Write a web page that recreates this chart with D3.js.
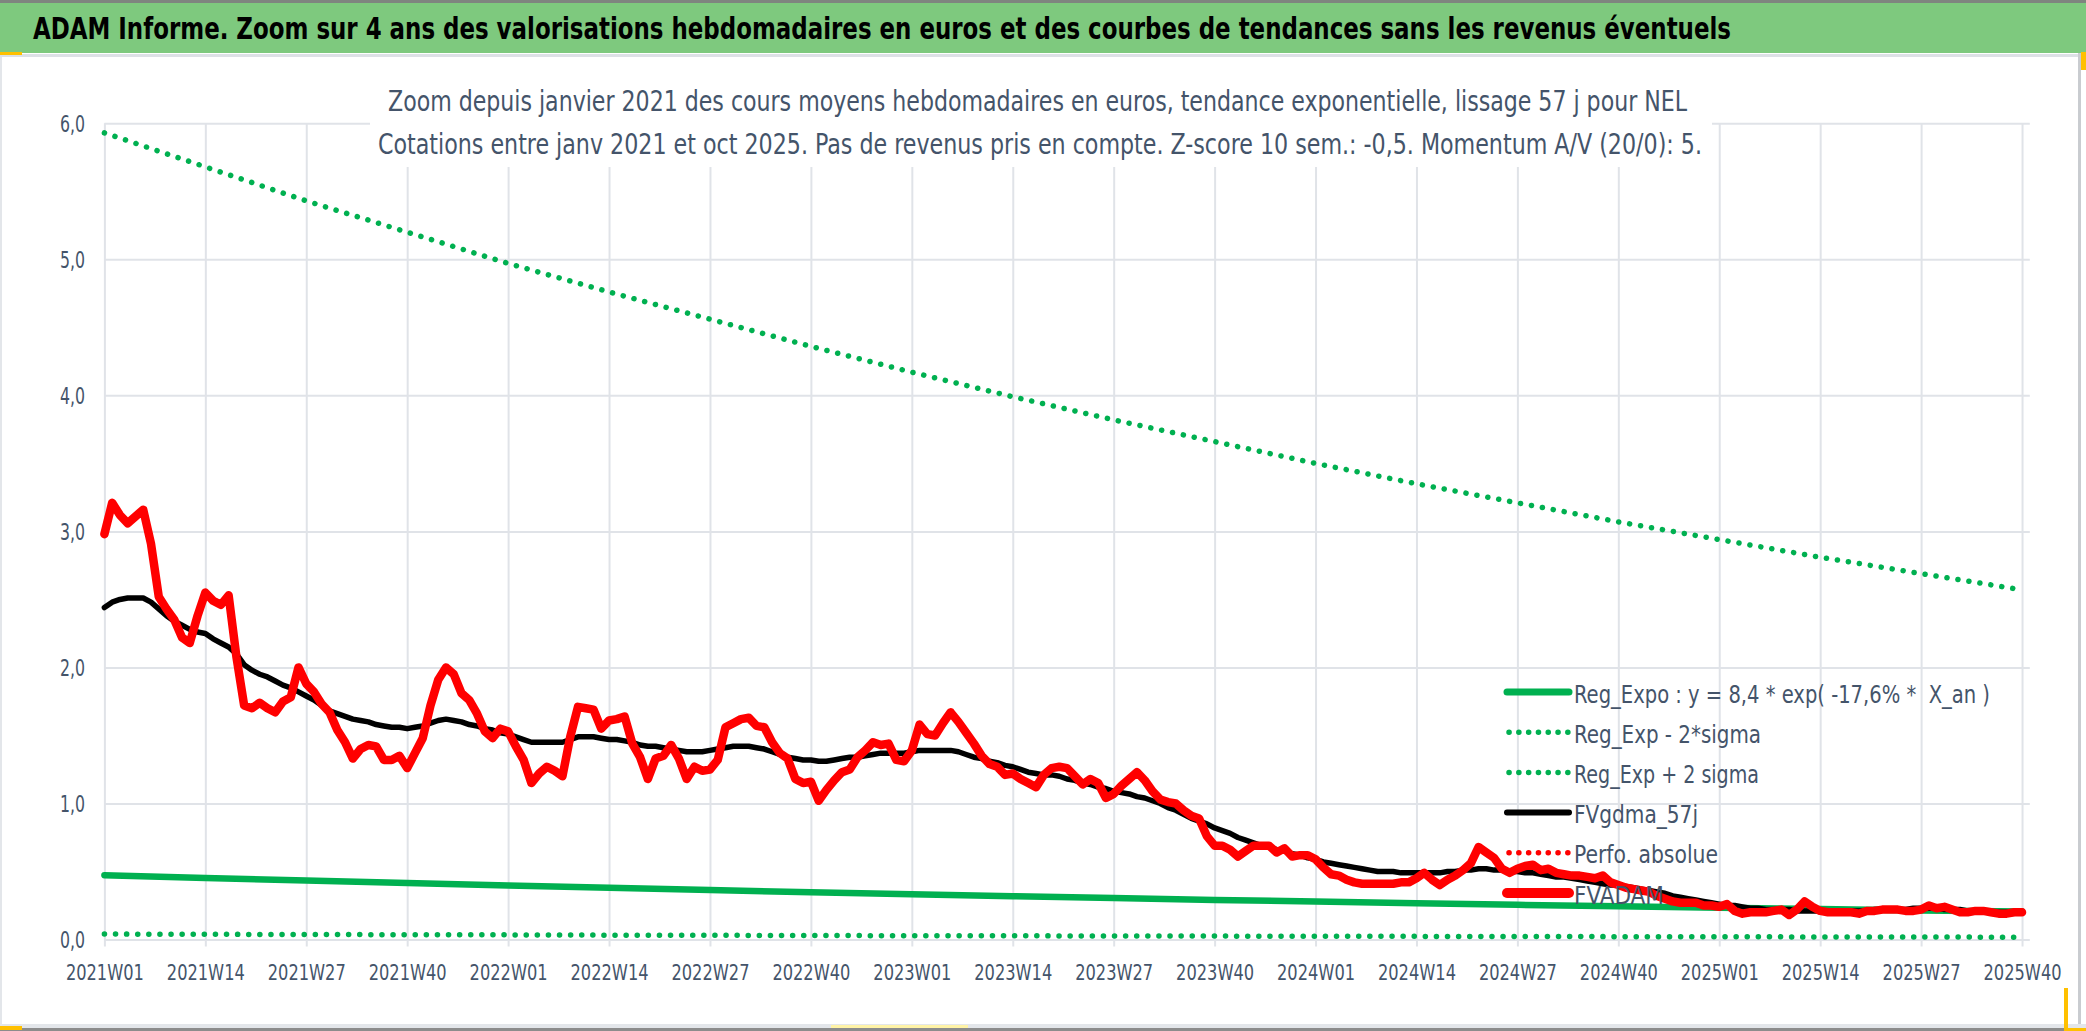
<!DOCTYPE html>
<html>
<head>
<meta charset="utf-8">
<script src="https://cdn.jsdelivr.net/npm/d3@7"></script>
<style>
  html, body { margin: 0; padding: 0; background: #fff; overflow: hidden; }
  text { font-family: "Liberation Sans Narrow", "DejaVu Sans Condensed", "Open Sans", sans-serif; }
</style>
</head>
<body>
<div id="chart"></div>
<script>
var titleText = 'ADAM Informe. Zoom sur 4 ans des valorisations hebdomadaires en euros et des courbes de tendances sans les revenus éventuels';
var subtitleLines = [
    'Zoom depuis janvier 2021 des cours moyens hebdomadaires en euros, tendance exponentielle, lissage 57 j pour NEL',
    'Cotations entre janv 2021 et oct 2025. Pas de revenus pris en compte. Z-score 10 sem.: -0,5. Momentum A/V (20/0): 5.'
];

// one label every 13 weeks, week 0 = 2021W01
var xTickLabels = ['2021W01', '2021W14', '2021W27', '2021W40', '2022W01', '2022W14', '2022W27', '2022W40',
    '2023W01', '2023W14', '2023W27', '2023W40', '2024W01', '2024W14', '2024W27', '2024W40',
    '2025W01', '2025W14', '2025W27', '2025W40'];
var yTicks = [0, 1, 2, 3, 4, 5, 6];

var legendLabels = ['Reg_Expo : y = 8,4 * exp( -17,6% *  X_an )', 'Reg_Exp - 2*sigma', 'Reg_Exp + 2 sigma',
    'FVgdma_57j', 'Perfo. absolue', 'FVADAM'];

// weekly values
var fvAdam = [
    2.98, 3.21, 3.12, 3.06, 3.11, 3.16, 2.91, 2.52, 2.43, 2.35, 2.22, 2.18, 2.38,
    2.55, 2.49, 2.46, 2.53, 2.08, 1.72, 1.70, 1.74, 1.70, 1.67, 1.75, 1.78, 2.00,
    1.88, 1.82, 1.73, 1.67, 1.54, 1.45, 1.33, 1.40, 1.43, 1.42, 1.32, 1.32, 1.35,
    1.26, 1.37, 1.48, 1.72, 1.91, 2.00, 1.95, 1.81, 1.76, 1.66, 1.53, 1.48, 1.55,
    1.53, 1.42, 1.32, 1.15, 1.22, 1.27, 1.24, 1.20, 1.49, 1.71, 1.70, 1.69, 1.55,
    1.61, 1.62, 1.64, 1.44, 1.34, 1.18, 1.33, 1.35, 1.43, 1.33, 1.18, 1.27, 1.24,
    1.25, 1.32, 1.56, 1.59, 1.62, 1.63, 1.57, 1.56, 1.45, 1.37, 1.33, 1.18, 1.15,
    1.16, 1.02, 1.10, 1.17, 1.23, 1.25, 1.34, 1.39, 1.45, 1.43, 1.44, 1.32, 1.31,
    1.39, 1.58, 1.51, 1.50, 1.59, 1.67, 1.60, 1.52, 1.44, 1.35, 1.29, 1.27, 1.21,
    1.22, 1.18, 1.15, 1.12, 1.21, 1.26, 1.27, 1.26, 1.20, 1.14, 1.18, 1.15, 1.04,
    1.07, 1.13, 1.18, 1.23, 1.17, 1.09, 1.03, 1.01, 1.00, 0.95, 0.91, 0.89, 0.76,
    0.69, 0.69, 0.66, 0.61, 0.65, 0.69, 0.69, 0.69, 0.64, 0.67, 0.61, 0.62, 0.62,
    0.59, 0.53, 0.48, 0.47, 0.44, 0.42, 0.41, 0.41, 0.41, 0.41, 0.41, 0.42, 0.42,
    0.45, 0.49, 0.44, 0.40, 0.44, 0.47, 0.51, 0.56, 0.68, 0.64, 0.60, 0.52, 0.49,
    0.52, 0.54, 0.55, 0.51, 0.52, 0.49, 0.48, 0.47, 0.47, 0.46, 0.45, 0.47, 0.42,
    0.40, 0.38, 0.37, 0.36, 0.35, 0.32, 0.30, 0.28, 0.27, 0.27, 0.27, 0.25, 0.25,
    0.24, 0.26, 0.21, 0.19, 0.20, 0.20, 0.20, 0.21, 0.22, 0.18, 0.22, 0.28, 0.24,
    0.21, 0.20, 0.20, 0.20, 0.20, 0.19, 0.21, 0.21, 0.22, 0.22, 0.22, 0.21, 0.21,
    0.22, 0.25, 0.23, 0.24, 0.22, 0.20, 0.20, 0.21, 0.21, 0.20, 0.19, 0.19, 0.20,
    0.20
];

var fvGdma57j = [
    2.44, 2.48, 2.50, 2.51, 2.51, 2.51, 2.48, 2.43, 2.38, 2.34, 2.31, 2.28, 2.26,
    2.25, 2.21, 2.18, 2.15, 2.10, 2.02, 1.98, 1.95, 1.93, 1.90, 1.87, 1.85, 1.82,
    1.79, 1.76, 1.72, 1.68, 1.66, 1.64, 1.62, 1.61, 1.60, 1.58, 1.57, 1.56, 1.56,
    1.55, 1.56, 1.57, 1.59, 1.61, 1.62, 1.61, 1.60, 1.58, 1.57, 1.55, 1.54, 1.52,
    1.51, 1.49, 1.47, 1.45, 1.45, 1.45, 1.45, 1.45, 1.47, 1.49, 1.49, 1.49, 1.48,
    1.47, 1.47, 1.46, 1.45, 1.43, 1.42, 1.42, 1.41, 1.40, 1.39, 1.38, 1.38, 1.38,
    1.39, 1.40, 1.41, 1.42, 1.42, 1.42, 1.41, 1.40, 1.38, 1.36, 1.34, 1.33, 1.32,
    1.32, 1.31, 1.31, 1.32, 1.33, 1.34, 1.34, 1.35, 1.36, 1.37, 1.37, 1.37, 1.37,
    1.38, 1.39, 1.39, 1.39, 1.39, 1.39, 1.38, 1.36, 1.34, 1.33, 1.31, 1.30, 1.28,
    1.27, 1.25, 1.23, 1.22, 1.21, 1.21, 1.20, 1.18, 1.17, 1.15, 1.14, 1.12, 1.11,
    1.09, 1.08, 1.07, 1.05, 1.04, 1.02, 1.00, 0.97, 0.95, 0.92, 0.89, 0.87, 0.85,
    0.82, 0.80, 0.78, 0.75, 0.73, 0.71, 0.69, 0.68, 0.66, 0.65, 0.63, 0.62, 0.60,
    0.59, 0.57, 0.56, 0.55, 0.54, 0.53, 0.52, 0.51, 0.50, 0.50, 0.50, 0.49, 0.49,
    0.49, 0.49, 0.49, 0.49, 0.50, 0.50, 0.51, 0.51, 0.52, 0.52, 0.51, 0.51, 0.50,
    0.50, 0.49, 0.49, 0.48, 0.47, 0.46, 0.46, 0.45, 0.44, 0.43, 0.42, 0.41, 0.40,
    0.40, 0.39, 0.38, 0.37, 0.36, 0.35, 0.34, 0.32, 0.31, 0.30, 0.29, 0.28, 0.27,
    0.26, 0.25, 0.25, 0.24, 0.23, 0.23, 0.22, 0.22, 0.22, 0.22, 0.21, 0.21, 0.21,
    0.21, 0.21, 0.21, 0.21, 0.21, 0.21, 0.21, 0.22, 0.22, 0.22, 0.22, 0.22, 0.23,
    0.23, 0.23, 0.23, 0.22, 0.22, 0.22, 0.21, 0.21, 0.21, 0.20, 0.20, 0.20, 0.20,
    0.20
];

// trend curves, read at each labelled week
var regExpo = [0.473, 0.453, 0.433, 0.415, 0.397, 0.380, 0.363, 0.348, 0.333, 0.318,
    0.305, 0.291, 0.279, 0.267, 0.255, 0.244, 0.234, 0.224, 0.214, 0.205];
var regExpMinus2Sigma = [0.040, 0.038, 0.037, 0.035, 0.034, 0.032, 0.031, 0.029, 0.028, 0.027,
    0.026, 0.025, 0.024, 0.023, 0.022, 0.021, 0.020, 0.019, 0.018, 0.017];
var regExpPlus2Sigma = [5.93, 5.68, 5.43, 5.20, 4.97, 4.76, 4.56, 4.36, 4.17, 3.99,
    3.82, 3.66, 3.50, 3.35, 3.21, 3.07, 2.94, 2.81, 2.69, 2.57];
var perfoAbsolue = [];

(function () {
    var W = 2086, H = 1031,
        weekStep = 13,
        nWeeks = 248,
        plotLeft = 104.4, plotRight = 2029.8, plotTop = 123.3, plotBottom = 939.5,
        green = '#00b050', textColor = '#44546a', gridColor = '#e0e3e8',
        svg, x, y, tickIdx, line, xAxis, yAxis, series, legend, legendWidths;

    svg = d3.select('#chart').append('svg')
        .attr('width', W)
        .attr('height', H)
        .attr('viewBox', '0 0 ' + W + ' ' + H);

    // frame and title band
    svg.append('rect').attr('x', 0).attr('y', 0).attr('width', W).attr('height', H).attr('fill', '#fff');
    svg.append('rect').attr('x', 0).attr('y', 0).attr('width', W).attr('height', 3).attr('fill', '#7f857f');
    svg.append('rect').attr('x', 0).attr('y', 3).attr('width', W).attr('height', 50).attr('fill', '#7ec97e');
    svg.append('rect').attr('x', 0).attr('y', 54).attr('width', W).attr('height', 3).attr('fill', '#dde1e6');
    svg.append('rect').attr('x', 0).attr('y', 57).attr('width', 2).attr('height', H - 57).attr('fill', '#e3e6ea');
    svg.append('rect').attr('x', 2078).attr('y', 53).attr('width', 3).attr('height', H - 53).attr('fill', '#c9ccd0');
    svg.append('rect').attr('x', 0).attr('y', 1024).attr('width', W).attr('height', 4).attr('fill', '#e3e6ea');
    svg.append('rect').attr('x', 0).attr('y', 1028).attr('width', W).attr('height', 3).attr('fill', '#8c8c8c');
    svg.append('rect').attr('x', 831).attr('y', 1025).attr('width', 137).attr('height', 3).attr('fill', '#fff3a6');
    [[0, 52, 22, 3], [2081, 52, 5, 18], [2064, 988, 4, 43], [2064, 1028, 22, 3], [0, 1026, 22, 4]].forEach(function (r) {
        svg.append('rect').attr('x', r[0]).attr('y', r[1]).attr('width', r[2]).attr('height', r[3]).attr('fill', '#ffc000');
    });

    svg.append('text')
        .attr('x', 33)
        .attr('y', 39)
        .attr('font-size', 30)
        .attr('font-weight', 'bold')
        .attr('fill', '#000')
        .attr('textLength', 1698)
        .attr('lengthAdjust', 'spacingAndGlyphs')
        .text(titleText);

    x = d3.scaleLinear().domain([0, nWeeks]).range([plotLeft, plotRight]);
    y = d3.scaleLinear().domain([0, 6]).range([plotBottom, plotTop]);
    tickIdx = xTickLabels.map(function (d, i) { return i * weekStep; });

    // horizontal grid + y labels
    yAxis = svg.append('g')
        .attr('transform', 'translate(' + plotLeft + ',0)')
        .call(d3.axisLeft(y)
            .tickValues(yTicks)
            .tickSize(-(plotRight - plotLeft))
            .tickPadding(19.5)
            .tickFormat(function (d) { return d3.format('.1f')(d).replace('.', ','); }));
    yAxis.select('.domain').remove();
    yAxis.selectAll('line').attr('stroke', gridColor).attr('stroke-width', 2);
    yAxis.selectAll('text')
        .attr('fill', textColor)
        .attr('font-size', 23)
        .attr('dy', '0.36em')
        .attr('textLength', 25)
        .attr('lengthAdjust', 'spacingAndGlyphs');

    // vertical grid + week labels
    xAxis = svg.append('g')
        .attr('transform', 'translate(0,' + (plotBottom + 7) + ')')
        .call(d3.axisBottom(x)
            .tickValues(tickIdx)
            .tickSizeInner(-(plotBottom + 7 - plotTop))
            .tickSizeOuter(0)
            .tickFormat(function (d, i) { return xTickLabels[i]; }));
    xAxis.select('.domain').remove();
    xAxis.selectAll('line').attr('stroke', gridColor).attr('stroke-width', 2);
    xAxis.selectAll('text')
        .attr('fill', textColor)
        .attr('font-size', 22)
        .attr('y', 33.5)
        .attr('dy', 0)
        .attr('textLength', 78)
        .attr('lengthAdjust', 'spacingAndGlyphs');

    // subtitle box hides the grid behind it
    svg.append('rect')
        .attr('x', 370).attr('y', plotTop - 4)
        .attr('width', 1342).attr('height', 167 - plotTop + 4)
        .attr('fill', '#fff');
    svg.selectAll('.subtitle')
        .data(subtitleLines)
        .enter().append('text')
        .attr('class', 'subtitle')
        .attr('x', function (d, i) { return i === 0 ? 388 : 378; })
        .attr('y', function (d, i) { return i === 0 ? 111 : 154; })
        .attr('font-size', 28)
        .attr('fill', textColor)
        .attr('textLength', function (d, i) { return i === 0 ? 1299 : 1324; })
        .attr('lengthAdjust', 'spacingAndGlyphs')
        .text(function (d) { return d; });

    line = d3.line()
        .x(function (d) { return x(d[0]); })
        .y(function (d) { return y(d[1]); });

    function trendPoints(values) {
        return values.map(function (v, i) { return [tickIdx[i], v]; });
    }
    function weeklyPoints(values) {
        return values.map(function (v, i) { return [i, v]; });
    }

    series = [
        { name: legendLabels[0], points: trendPoints(regExpo), color: green, width: 6.5, dash: null, legendWidth: 7 },
        { name: legendLabels[1], points: trendPoints(regExpMinus2Sigma), color: green, width: 5.5, dash: '0.1 11', legendWidth: 5.5 },
        { name: legendLabels[2], points: trendPoints(regExpPlus2Sigma), color: green, width: 5.5, dash: '0.1 11', legendWidth: 5.5 },
        { name: legendLabels[3], points: weeklyPoints(fvGdma57j), color: '#000', width: 5.5, dash: null, legendWidth: 6 },
        { name: legendLabels[4], points: weeklyPoints(perfoAbsolue), color: '#ff0000', width: 5.5, dash: '0.1 11', legendWidth: 5.5 },
        { name: legendLabels[5], points: weeklyPoints(fvAdam), color: '#ff0000', width: 8.5, dash: null, legendWidth: 10 }
    ];

    svg.append('g')
        .selectAll('path')
        .data(series.filter(function (s) { return s.points.length; }))
        .enter().append('path')
        .attr('d', function (s) { return line(s.points); })
        .attr('fill', 'none')
        .attr('stroke', function (s) { return s.color; })
        .attr('stroke-width', function (s) { return s.width; })
        .attr('stroke-dasharray', function (s) { return s.dash; })
        .attr('stroke-linecap', 'round')
        .attr('stroke-linejoin', 'round');

    // legend (transparent, over the plot)
    legendWidths = [416, 187, 185, 124, 144, 90];
    legend = svg.append('g')
        .selectAll('g')
        .data(series)
        .enter().append('g')
        .attr('transform', function (s, i) { return 'translate(0,' + (692 + i * 40.2) + ')'; });

    legend.append('line')
        .attr('x1', function (s) { return s.dash ? 1509 : 1507; })
        .attr('x2', 1569)
        .attr('y1', 0).attr('y2', 0)
        .attr('stroke', function (s) { return s.color; })
        .attr('stroke-width', function (s) { return s.legendWidth; })
        .attr('stroke-dasharray', function (s) { return s.dash ? '0.1 9.7' : null; })
        .attr('stroke-linecap', 'round');

    legend.append('text')
        .attr('x', 1574)
        .attr('y', 10.5)
        .attr('font-size', 25)
        .attr('fill', textColor)
        .attr('textLength', function (s, i) { return legendWidths[i]; })
        .attr('lengthAdjust', 'spacingAndGlyphs')
        .style('white-space', 'pre')
        .text(function (s) { return s.name; });
})();
</script>
</body>
</html>
